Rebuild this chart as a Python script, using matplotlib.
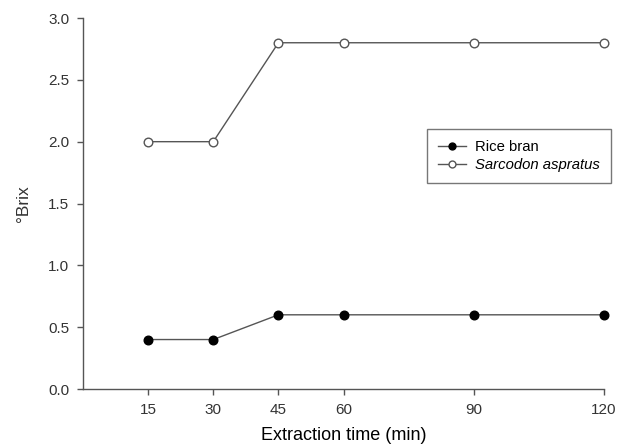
import matplotlib

matplotlib.use("Agg")
import matplotlib.pyplot as plt

plt.rcParams["font.family"] = ["Liberation Sans", "DejaVu Sans"]

time_min = [15, 30, 45, 60, 90, 120]
rice_bran = [0.4, 0.4, 0.6, 0.6, 0.6, 0.6]
sarcodon = [2.0, 2.0, 2.8, 2.8, 2.8, 2.8]
x_ticks = [15, 30, 45, 60, 90, 120]
y_ticks = [0.0, 0.5, 1.0, 1.5, 2.0, 2.5, 3.0]

axis_gray = "#555555"
text_gray = "#333333"

fig = plt.figure(figsize=(6.26, 4.46), dpi=100)
ax = fig.add_axes([0.1326, 0.1278, 0.8324, 0.8318])

ax.plot(time_min, rice_bran, color=axis_gray, lw=1.0, marker="o", ms=6.2,
        mfc="black", mec="black", label="Rice bran", clip_on=False, zorder=3)
ax.plot(time_min, sarcodon, color=axis_gray, lw=1.0, marker="o", ms=6.2,
        mfc="white", mec=axis_gray, mew=1.0, label="Sarcodon aspratus",
        clip_on=False, zorder=3)

ax.set_xlim(0, 120)
ax.set_ylim(0, 3.0)
ax.set_xticks(x_ticks)
ax.set_yticks(y_ticks)
ax.set_yticklabels([f"{v:.1f}" for v in y_ticks])

for side in ("top", "right"):
    ax.spines[side].set_visible(False)
for side in ("left", "bottom"):
    ax.spines[side].set_color(axis_gray)
    ax.spines[side].set_linewidth(1.0)
ax.tick_params(direction="out", length=4, width=1.0, color=axis_gray,
               labelsize=11, labelcolor=text_gray, pad=6)

ax.set_xlabel("Extraction time (min)", fontsize=13, color="black", labelpad=7)
ax.set_ylabel("°Brix", fontsize=12.5, color=text_gray, labelpad=12)

leg = ax.legend(loc="upper right", bbox_to_anchor=(1.013, 0.70), fontsize=10.7,
                frameon=True, fancybox=False, edgecolor=axis_gray,
                handlelength=1.9, handletextpad=0.6, borderpad=0.75,
                labelspacing=0.25, markerscale=0.8, borderaxespad=0)
leg.get_frame().set_linewidth(1.0)
leg.get_texts()[1].set_style("italic")

fig.savefig("out.png", dpi=100)
